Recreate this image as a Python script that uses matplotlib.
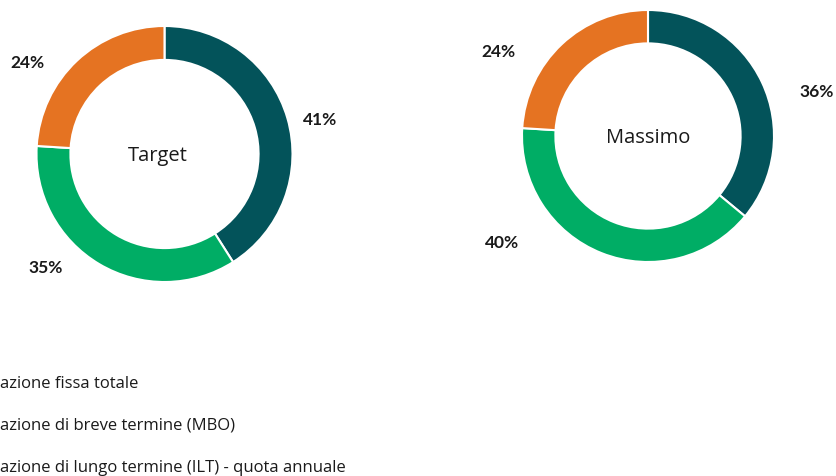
import matplotlib.pyplot as plt
import numpy as np

W, H = 837, 477

categories = ['Remunerazione fissa totale',
              'Remunerazione di breve termine (MBO)',
              'Remunerazione di lungo termine (ILT) - quota annuale']
legend_visible = ['azione fissa totale',
                  'azione di breve termine (MBO)',
                  'azione di lungo termine (ILT) - quota annuale']
target_vals = [41, 35, 24]
massimo_vals = [36, 40, 24]
colors = ['#03535A', '#00AD65', '#E57322']

plt.rcParams['font.family'] = ['Open Sans', 'DejaVu Sans']

fig = plt.figure(figsize=(W / 100, H / 100), dpi=100)


def donut(cx, cy, r, vals, title, title_dx, label_pos):
    # axes placed in pixel units, pie radius 1 fills it
    ax = fig.add_axes([(cx - r) / W, 1 - (cy + r) / H, 2 * r / W, 2 * r / H])
    wedges, _ = ax.pie(vals, colors=colors, startangle=90, counterclock=False,
                       radius=1, wedgeprops=dict(width=0.265, edgecolor='white', linewidth=1.5))
    ax.set_xlim(-1, 1)
    ax.set_ylim(-1, 1)
    ax.set_aspect('equal')
    ax.axis('off')
    ax.text(title_dx / r, -0.01, title, ha='center', va='center', fontsize=14.5, color='#1a1a1a')
    for v, (d, ang) in zip(vals, label_pos):
        a = np.deg2rad(ang)
        fig.text((cx + d * np.cos(a)) / W, 1 - (cy - d * np.sin(a)) / H, f'{v}%',
                 ha='center', va='center', fontsize=12.5, fontweight='bold',
                 family=['Lato', 'DejaVu Sans'], color='#1a1a1a')


donut(164.5, 155, 128, target_vals, 'Target', -7, [(159, 12.7), (164, -136.4), (165, 146)])
donut(648, 137, 126, massimo_vals, 'Massimo', 0, [(175, 14.9), (180, -144), (172, 150.5)])

for i, txt in enumerate(legend_visible):
    fig.text(0 / W, 1 - (384 + 42 * i) / H, txt, ha='left', va='center',
             fontsize=12, color='#1a1a1a')

fig.savefig('out.png', dpi=100)
